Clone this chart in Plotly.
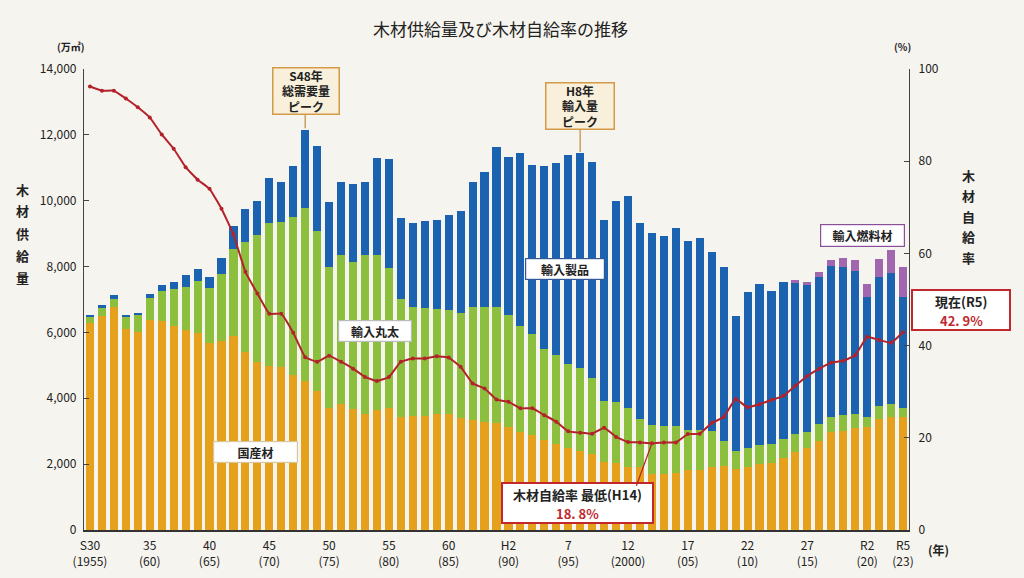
import plotly.graph_objects as go

years = list(range(1955, 2024))

domestic = [6276, 6499, 6783, 6094, 6023, 6378, 6347, 6206, 6074, 5973,
            5669, 5740, 5892, 5416, 5112, 4981, 4950, 4717, 4525, 4221,
            3715, 3827, 3685, 3513, 3644, 3715, 3442, 3462, 3462, 3523,
            3523, 3391, 3341, 3290, 3240, 3138, 2986, 2885, 2733, 2612,
            2480, 2409, 2300, 2075, 2025, 1923, 1903, 1701, 1701, 1741,
            1822, 1822, 1903, 1944, 1842, 1903, 2004, 2045, 2177, 2379,
            2480, 2713, 2986, 3017, 3108, 3118, 3361, 3442, 3422]

imp_logs = [183, 233, 243, 385, 507, 678, 911, 1123, 1316, 1589,
            1691, 2025, 2632, 3331, 3837, 4343, 4404, 4779, 5244, 4860,
            4282, 4535, 4464, 4839, 4708, 4232, 3584, 3300, 3270, 3179,
            3158, 3189, 3442, 3493, 3543, 3392, 3220, 3057, 2774, 2703,
            2561, 2501, 2306, 1853, 1873, 1792, 1468, 1488, 1457, 1428,
            1215, 1215, 1114, 769, 567, 577, 577, 575, 597, 526,
            506, 506, 456, 465, 405, 324, 405, 385, 283]

imp_products = [61, 91, 111, 51, 70, 111, 172, 213, 354, 365,
                334, 496, 698, 992, 1053, 1356, 1205, 1559, 2381, 2581,
                1954, 2207, 2359, 2217, 2936, 3310, 2460, 2551, 2662, 2713,
                2886, 3118, 3776, 4079, 4839, 4808, 5233, 5133, 5548, 5841,
                6348, 6529, 6580, 5487, 6104, 6429, 5963, 5821, 5761, 6003,
                5740, 5831, 5416, 5274, 4100, 4738, 4890, 4638, 4766, 4586,
                4444, 4475, 4576, 4515, 4353, 3624, 3908, 3988, 3361]

imp_fuel = [0] * 59 + [100, 100, 130, 180, 250, 335, 395, 545, 690, 930]

self_rate = [96.2, 95.3, 95.3, 93.6, 91.7, 89.5, 85.8, 82.7, 78.7, 76.0,
             74.0, 69.7, 64.1, 56.0, 51.3, 46.9, 46.9, 42.8, 37.5, 36.5,
             37.8, 36.5, 35.0, 33.2, 32.3, 33.2, 36.5, 37.2, 37.2, 37.7,
             37.4, 35.4, 31.8, 30.7, 28.3, 27.8, 26.4, 26.4, 24.9, 23.5,
             21.4, 21.1, 20.9, 22.2, 20.2, 19.1, 19.0, 18.8, 19.0, 19.0,
             20.8, 20.9, 23.2, 24.5, 28.4, 26.6, 27.3, 28.2, 29.1, 31.3,
             33.4, 35.0, 36.3, 36.7, 37.9, 41.9, 41.2, 40.6, 42.9]

xtick_vals = [1955, 1960, 1965, 1970, 1975, 1980, 1985, 1990, 1995,
              2000, 2005, 2010, 2015, 2020, 2023]
xtick_text = ["S30<br>(1955)", "35<br>(60)", "40<br>(65)", "45<br>(70)",
              "50<br>(75)", "55<br>(80)", "60<br>(85)", "H2<br>(90)",
              "7<br>(95)", "12<br>(2000)", "17<br>(05)", "22<br>(10)",
              "27<br>(15)", "R2<br>(20)", "R5<br>(23)"]

C_DOM = "#e6a11c"
C_LOG = "#8dbf3e"
C_PRO = "#1b62b0"
C_FUEL = "#a067ae"
C_LINE = "#b3222b"
C_RED = "#c0282e"
BG = "#f6f4ee"
FONT = "Noto Sans CJK JP"
NUMFONT = "Liberation Sans Narrow, " + FONT

fig = go.Figure()
for name, vals, col in [("国産材", domestic, C_DOM), ("輸入丸太", imp_logs, C_LOG),
                        ("輸入製品", imp_products, C_PRO), ("輸入燃料材", imp_fuel, C_FUEL)]:
    fig.add_trace(go.Bar(x=years, y=vals, name=name, marker=dict(color=col, line=dict(width=0)),
                         yaxis="y"))

fig.add_trace(go.Scatter(x=years, y=self_rate, name="木材自給率", yaxis="y2",
                         mode="lines+markers",
                         line=dict(color=C_LINE, width=2, shape="spline", smoothing=0.3),
                         marker=dict(color=C_LINE, size=4)))

L, R, T, B = 84, 115, 69, 48
W, H = 1024, 578
pw, ph = W - L - R, H - T - B


def px(x):
    return (x - L) / pw


def py(y):
    return (H - B - y) / ph


annotations = []
shapes = []


def txt(x, y, text, size=12, color="#222", family=FONT):
    annotations.append(dict(xref="paper", yref="paper", x=px(x), y=py(y), text=text,
                            xanchor="center", yanchor="middle", showarrow=False,
                            font=dict(size=size, color=color, family=family)))


txt(500, 28, "木材供給量及び木材自給率の推移", size=17)
txt(71, 47, "<b>(万㎥)</b>", size=10, family=NUMFONT)
txt(902, 47, "<b>(%)</b>", size=10, family=NUMFONT)
txt(938, 549, "<b>(年)</b>", size=12, family=NUMFONT)
for i, ch in enumerate("木材供給量"):
    txt(22, 189 + i * 22, "<b>" + ch + "</b>", size=13)
for i, ch in enumerate("木材自給率"):
    txt(968, 175 + i * 20.5, "<b>" + ch + "</b>", size=13)


def box(x0, y0, x1, y1, text, border, bg="white", size=12, bw=1.2, pad=1):
    w = x1 - x0 - 2 * pad - 2 * bw
    h = y1 - y0 - 2 * pad - 2 * bw
    annotations.append(dict(xref="paper", yref="paper", x=px((x0 + x1) / 2), y=py((y0 + y1) / 2),
                            text=text, width=w, height=h, align="center", valign="middle",
                            xanchor="center", yanchor="middle",
                            showarrow=False, bgcolor=bg, bordercolor=border, borderwidth=bw,
                            borderpad=pad, font=dict(size=size, color="#222", family=FONT)))


def rect(x0, y0, x1, y1, border, bw=2):
    shapes.append(dict(type="rect", xref="paper", yref="paper", x0=px(x0), x1=px(x1),
                       y0=py(y1), y1=py(y0), fillcolor="white", line=dict(color=border, width=bw),
                       layer="above"))


box(272, 67, 340, 115, "<b>S48年<br>総需要量<br>ピーク</b>", "#d49a47", bg="#f8f0da", size=12, bw=1.5)
box(545, 82, 615, 130, "<b>H8年<br>輸入量<br>ピーク</b>", "#d49a47", bg="#f8f0da", size=12, bw=1.5)
box(525, 258, 605, 280, "<b>輸入製品</b>", "#30589a", size=12)
box(338, 320, 412, 342, "<b>輸入丸太</b>", "#bbbbbb", size=12)
box(213, 441, 298, 463, "<b>国産材</b>", "#d8c7a0", size=12)
box(820, 224, 905, 247, "<b>輸入燃料材</b>", "#8a4f9a", size=12)

rect(912, 290, 1010, 330, C_RED)
txt(961, 301, "<b>現在(R5)</b>", size=13)
txt(961, 320, "<b>42. 9%</b>", size=13, color=C_RED)

rect(502, 483, 653, 523, C_RED)
txt(577, 494, "<b>木材自給率 最低(H14)</b>", size=13)
txt(577, 513, "<b>18. 8%</b>", size=13, color=C_RED)

shapes += [
    dict(type="line", xref="x", yref="y", x0=1973, x1=1973, y0=12200, y1=12600,
         line=dict(color="#c9a060", width=1.5)),
    dict(type="line", xref="x", yref="y", x0=1996, x1=1996, y0=11480, y1=12150,
         line=dict(color="#c9a060", width=1.5)),
    dict(type="line", xref="x", yref="y2", x0=2002, x1=2000.7, y0=18.8, y1=9.6,
         line=dict(color="#b3222b", width=1.2)),
]

fig.update_layout(
    width=W, height=H,
    margin=dict(l=L, r=R, t=T, b=B, autoexpand=False),
    paper_bgcolor=BG, plot_bgcolor=BG,
    barmode="stack", bargap=0.32,
    showlegend=False,
    font=dict(family=FONT, color="#222"),
    xaxis=dict(range=[1954.5, 2023.5], tickvals=xtick_vals, ticktext=xtick_text,
               showgrid=False, zeroline=False, showline=True, linecolor="#333", linewidth=1.5,
               ticks="", ticklabelstandoff=4, automargin=False,
               tickfont=dict(size=12, color="#222", family=NUMFONT)),
    yaxis=dict(range=[0, 14000], dtick=2000, tickformat=",", showgrid=False, zeroline=False,
               showline=True, linecolor="#444", linewidth=1.2, ticks="inside", ticklen=5,
               tickcolor="#444", ticklabelstandoff=4, automargin=False,
               tickfont=dict(size=12, color="#222", family=NUMFONT)),
    yaxis2=dict(range=[0, 100], dtick=20, overlaying="y", side="right", showgrid=False,
                zeroline=False, showline=True, linecolor="#444", linewidth=1.2, ticks="inside",
                ticklen=5, tickcolor="#444", ticklabelstandoff=6, automargin=False,
                tickfont=dict(size=12, color="#222", family=NUMFONT)),
    annotations=annotations,
    shapes=shapes,
)

fig.write_html("out.html")
